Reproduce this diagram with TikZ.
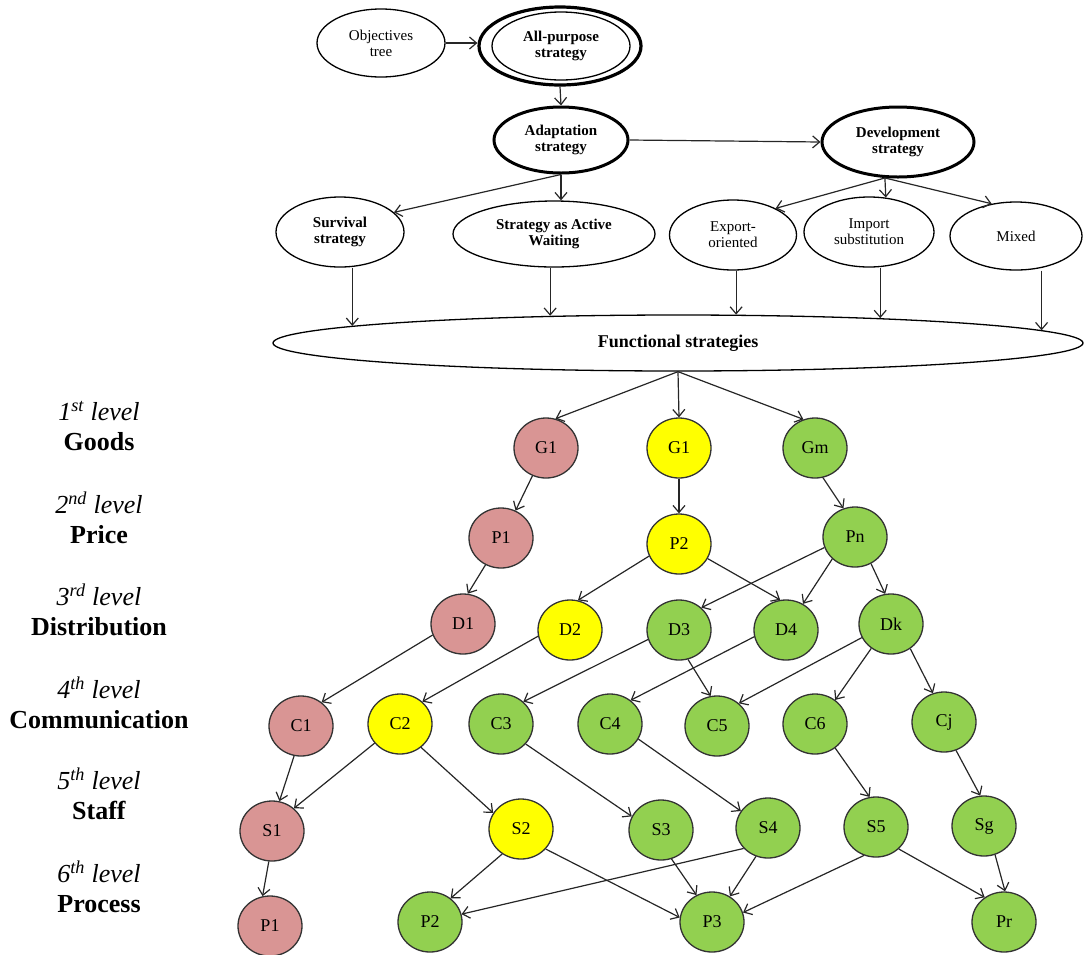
\documentclass[tikz,border=0pt]{standalone}
\usepackage{fontspec}
\setmainfont{Liberation Serif}
\usetikzlibrary{shapes.geometric,arrows.meta}
\definecolor{rosefill}{HTML}{D99594}
\definecolor{yellowfill}{HTML}{FFFF00}
\definecolor{greenfill}{HTML}{92D050}
\begin{document}
\begin{tikzpicture}[x=1pt,y=-1pt,
  every node/.style={inner sep=0pt},
  oval/.style={ellipse, draw, line width=1.3pt, align=center,
    font=\fontsize{15}{16}\selectfont},
  boldoval/.style={oval, font=\fontsize{15}{16}\selectfont\bfseries},
  thickoval/.style={boldoval, line width=3pt},
  dot/.style={ellipse, draw=black!80, line width=1.3pt, minimum width=64pt,
    minimum height=60pt, font=\fontsize{18}{18}\selectfont},
  pk/.style={dot, fill=rosefill},
  yl/.style={dot, fill=yellowfill},
  gr/.style={dot, fill=greenfill},
  link/.style={draw=black!85, line width=1.2pt,
    -{Straight Barb[length=7pt,width=12pt]}},
  levelname/.style={align=center, font=\fontsize{26}{30}\selectfont}
]
\useasboundingbox (0,0) rectangle (1084,954);

% ---- strategy hierarchy ----
\node[oval, minimum width=128, minimum height=68] (Obj) at (381,43) {Objectives\\tree};
\node[ellipse, draw, line width=3.2pt, minimum width=162, minimum height=78] (AP) at (560,46) {};
\node[boldoval, minimum width=138, minimum height=68] (APin) at (561,46) {All-purpose\\strategy};
\node[thickoval, minimum width=134, minimum height=66] (Adapt) at (561,140) {Adaptation\\strategy};
\node[thickoval, minimum width=152, minimum height=70] (Dev) at (898,142) {Development\\strategy};
\node[boldoval, minimum width=128, minimum height=70] (Surv) at (340,232) {Survival\\strategy};
\node[boldoval, minimum width=202, minimum height=66] (AW) at (554,234) {Strategy as Active\\Waiting};
\node[oval, minimum width=127, minimum height=70] (Exp) at (733,235) {Export-\\oriented};
\node[oval, minimum width=130, minimum height=70] (Imp) at (869,232) {Import\\substitution};
\node[oval, minimum width=132, minimum height=68] (Mix) at (1016,236) {Mixed};
\node[boldoval, minimum width=810, minimum height=56,
  font=\fontsize{18}{19}\selectfont\bfseries] (F) at (678,343) {Functional strategies};

\draw[link] (Obj.east) -- (Obj.east -| AP.west);
\draw[link] (AP.south) -- (Adapt.north);
\draw[link] (Adapt.east) -- (Dev.west);
\draw[link] (Adapt.south) -- (Surv.20.7);
\draw[link] (Adapt.south) -- (Adapt.south |- AW.north);
\draw[link] (Dev.250) -- (Exp.32.5);
\draw[link] (Dev.250) -- (Imp.64);
\draw[link] (Dev.250) -- (Mix.127);

\draw[link] (F.177.57 |- Surv.south) -- (F.177.57);
\draw[link] (F.168.08 |- AW.south) -- (F.168.08);
\draw[link] (F.26.77 |- Exp.south) -- (F.26.77);
\draw[link] (F.7.22 |- Imp.south) -- (F.7.22);
\draw[link] (F.2.56 |- Mix.south) -- (F.2.56);

% ---- level captions ----
\node[levelname] (L1) at (99,426) {\textit{1\textsuperscript{st} level}\\\textbf{Goods}};
\node[levelname] (L2) at (99,518) {\textit{2\textsuperscript{nd} level}\\\textbf{Price}};
\node[levelname] (L3) at (99,610) {\textit{3\textsuperscript{rd} level}\\\textbf{Distribution}};
\node[levelname] (L4) at (99,703) {\textit{4\textsuperscript{th} level}\\\textbf{Communication}};
\node[levelname] (L5) at (99,794) {\textit{5\textsuperscript{th} level}\\\textbf{Staff}};
\node[levelname] (L6) at (99,887) {\textit{6\textsuperscript{th} level}\\\textbf{Process}};

% ---- marketing mix network ----
\node[pk] (G1p) at (546,448) {G1};
\node[yl] (G1y) at (679,448) {G1};
\node[gr] (Gm)  at (815,448) {Gm};

\node[pk] (P1) at (501,538) {P1};
\node[yl] (P2) at (679,544) {P2};
\node[gr] (Pn) at (855,537) {Pn};

\node[pk] (D1) at (463,624) {D1};
\node[yl] (D2) at (570,630) {D2};
\node[gr] (D3) at (679,630) {D3};
\node[gr] (D4) at (786,630) {D4};
\node[gr] (Dk) at (891,624) {Dk};

\node[pk] (C1) at (301,726) {C1};
\node[yl] (C2) at (400,724) {C2};
\node[gr] (C3) at (501,724) {C3};
\node[gr] (C4) at (610,724) {C4};
\node[gr] (C5) at (717,726) {C5};
\node[gr] (C6) at (815,724) {C6};
\node[gr] (Cj) at (944,722) {Cj};

\node[pk] (S1) at (272,831) {S1};
\node[yl] (S2) at (521,829) {S2};
\node[gr] (S3) at (661,830) {S3};
\node[gr] (S4) at (768,828) {S4};
\node[gr] (S5) at (876,827) {S5};
\node[gr] (Sg) at (984,826) {Sg};

\node[pk] (Pa) at (270,926) {P1};
\node[gr] (Pb) at (430,922) {P2};
\node[gr] (P3) at (712,922) {P3};
\node[gr] (Pr) at (1004,922) {Pr};

\draw[link] (F.south) -- (G1p.72);
\draw[link] (F.south) -- (G1y.north);
\draw[link] (F.south) -- (Gm.112);

\draw[link] (G1p.244) -- (P1.62);
\draw[link] (P1.240) -- (D1.81);
\draw[link] (D1.200) -- (C1.49);

\draw[link] (G1y.south) -- (P2.north);
\draw[link] (P2.202) -- (D2.75);
\draw[link] (P2.333) -- (D4.101);

\draw[link] (Gm.285) -- (Pn.112.5);
\draw[link] (Pn.199.5) -- (D3.45);
\draw[link] (Pn.224) -- (D4.57);
\draw[link] (Pn.301) -- (Dk.101);

\draw[link] (D2.191) -- (C2.45);
\draw[link] (D3.197) -- (C3.45);
\draw[link] (D3.287) -- (C5.102);
\draw[link] (D4.192) -- (C4.49);
\draw[link] (Dk.205) -- (C5.46);
\draw[link] (Dk.231) -- (C6.50);
\draw[link] (Dk.308) -- (Cj.111);

\draw[link] (C1.257) -- (S1.76);
\draw[link] (C2.217) -- (S1.46);
\draw[link] (C2.312) -- (S2.150);
\draw[link] (C3.321) -- (S3.155);
\draw[link] (C4.332) -- (S4.148);
\draw[link] (C6.310) -- (S5.102);
\draw[link] (Cj.293) -- (Sg.97);

\draw[link] (S1.264) -- (Pa.104);
\draw[link] (S2.233) -- (Pb.49);
\draw[link] (S2.321) -- (P3.172);
\draw[link] (S3.290) -- (P3.120);
\draw[link] (S4.220) -- (Pb.14);
\draw[link] (S4.247) -- (P3.55);
\draw[link] (S5.247) -- (P3.17);
\draw[link] (S5.316) -- (Pr.128);
\draw[link] (Sg.291) -- (Pr.88);
\end{tikzpicture}
\end{document}
